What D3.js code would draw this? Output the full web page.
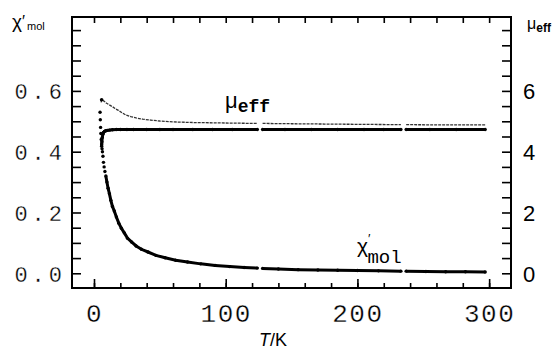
<!DOCTYPE html>
<html>
<head>
<meta charset="utf-8">
<script src="https://cdn.jsdelivr.net/npm/d3@7"></script>
<style>
  body { margin: 0; background: #fff; }
  svg { display: block; }
</style>
</head>
<body>
<div class="chart"></div>
<script>
// values (T in K); null marks a gap in the run
var chiT = [4.6, 4.8, 5.0, 5.2, 5.5, 5.8, 6.1, 6.4, 6.8, 7.2, 7.7, 8.3, 9.0, 9.8, 10.7, 11.7, 12.8, 14.0, 15.4, 17.0,
            18.8, 20.8, 23, 25.5, 28.5, 32, 36, 41, 47, 54, 62, 71, 81, 92, 103, 114, 124, 126, 128, 140,
            155, 170, 185, 200, 216, 233, 235, 237, 252, 267, 282, 297];
var chiV = [0.53, 0.505, 0.48, 0.46, 0.44, 0.425, 0.41, 0.40, 0.385, 0.365, 0.35, 0.335, 0.32, 0.30, 0.28, 0.262, 0.24, 0.22, 0.205, 0.185,
            0.165, 0.148, 0.133, 0.115, 0.103, 0.09, 0.079, 0.07, 0.059, 0.051, 0.043, 0.037, 0.031, 0.026, 0.022, 0.019, 0.017, null, 0.016, 0.014,
            0.012, 0.011, 0.010, 0.009, 0.008, 0.007, null, 0.007, 0.006, 0.005, 0.005, 0.004];

var muLowT = [5.8, 6.0, 6.3, 6.7, 7.2, 8, 9, 10, 12, 14, 17, 20, 25, 30, 40, 50, 60, 75, 90, 105, 124, 126, 128,
              145, 165, 185, 205, 220, 233, 235, 237, 255, 275, 297];
var muLowV = [4.18, 4.33, 4.47, 4.57, 4.63, 4.67, 4.69, 4.70, 4.71, 4.72, 4.73, 4.73, 4.73, 4.73, 4.73, 4.73, 4.73, 4.73, 4.73, 4.73, 4.73, null, 4.73,
              4.73, 4.73, 4.73, 4.73, 4.73, 4.73, null, 4.73, 4.73, 4.73, 4.73];

var muHighT = [5.4, 5.8, 6.3, 7, 8, 9, 10.5, 12, 14, 16, 18.5, 21, 24, 28, 32, 37, 43, 50, 60, 75, 90, 105, 124, 126, 128,
               150, 175, 200, 233, 235, 237, 265, 297];
var muHighV = [5.62, 5.71, 5.70, 5.68, 5.65, 5.61, 5.57, 5.53, 5.48, 5.42, 5.36, 5.29, 5.21, 5.15, 5.11, 5.07, 5.04, 5.01, 4.98, 4.96, 4.95, 4.94, 4.93, null, 4.93,
               4.92, 4.91, 4.90, 4.89, null, 4.89, 4.88, 4.88];

var xLabelTicks = [0, 100, 200, 300];
var yLeftLabelTicks = [0.0, 0.2, 0.4, 0.6];
var yRightLabelTicks = [0, 2, 4, 6];

var W = 555, H = 349;
var box = {left: 72, top: 17, right: 511, bottom: 288};

// scales
var x = d3.scaleLinear().domain([-16.7, 316.6]).range([box.left, box.right]);
var yL = d3.scaleLinear().domain([-0.0484, 0.8431]).range([box.bottom, box.top]);
var yR = d3.scaleLinear().domain([-0.484, 8.431]).range([box.bottom, box.top]);

function zip(ts, vs) {
    return ts.map(function(t, i) { return {t: t, v: vs[i]}; });
}
var chi = zip(chiT, chiV), muLow = zip(muLowT, muLowV), muHigh = zip(muHighT, muHighV);

var svg = d3.select("div.chart").append("svg")
    .attr("width", W).attr("height", H)
    .style("font-family", "'Liberation Sans', Arial, sans-serif");

// minor ticks every 20 K / 0.05 / 0.5
var minorX = d3.range(0, 16).map(function(i) { return i * 20; });
var minorL = d3.range(0, 17).map(function(i) { return +(i * 0.05).toFixed(2); });
var minorR = d3.range(0, 17).map(function(i) { return i * 0.5; });

function plain(g) { g.select(".domain").remove(); g.selectAll("line").attr("stroke", "#000").attr("stroke-width", 1.6); }

svg.append("g").attr("transform", "translate(0," + box.bottom + ")")
    .call(d3.axisBottom(x).tickValues(minorX).tickSize(-5).tickFormat(""))
    .call(plain);
svg.append("g").attr("transform", "translate(0," + box.top + ")")
    .call(d3.axisTop(x).tickValues(minorX).tickSize(-6).tickFormat(""))
    .call(plain);
svg.append("g").attr("transform", "translate(" + box.left + ",0)")
    .call(d3.axisLeft(yL).tickValues(minorL).tickSize(-9).tickFormat(""))
    .call(plain);
svg.append("g").attr("transform", "translate(" + box.right + ",0)")
    .call(d3.axisRight(yR).tickValues(minorR).tickSize(-9).tickFormat(""))
    .call(plain);

// slightly thinner strokes for the monospace tick labels
function thin(sel) { sel.attr("stroke", "#fff").attr("stroke-width", 0.3); }

// labelled ticks
var xAx = svg.append("g").attr("transform", "translate(0," + box.bottom + ")")
    .call(d3.axisBottom(x).tickValues(xLabelTicks).tickSize(-9).tickPadding(16).tickFormat(d3.format("d")))
    .call(plain);
xAx.selectAll("text")
    .attr("fill", "#000")
    .call(thin)
    .style("font-family", "'Liberation Mono', monospace")
    .style("font-size", "26px")
    .style("letter-spacing", "1.5px");

var yAxL = svg.append("g").attr("transform", "translate(" + box.left + ",0)")
    .call(d3.axisLeft(yL).tickValues(yLeftLabelTicks).tickSize(0).tickPadding(6).tickFormat(d3.format(".1f")))
    .call(plain);
yAxL.selectAll("text")
    .attr("fill", "#000")
    .call(thin)
    .attr("dy", "0.36em")
    .style("font-family", "'Liberation Mono', monospace")
    .style("font-size", "22px")
    .style("letter-spacing", "4px");

var yAxR = svg.append("g").attr("transform", "translate(" + box.right + ",0)")
    .call(d3.axisRight(yR).tickValues(yRightLabelTicks).tickSize(0).tickPadding(12).tickFormat(d3.format("d")))
    .call(plain);
yAxR.selectAll("text")
    .attr("fill", "#000")
    .attr("dy", "0.36em")
    .style("font-size", "22px");

// frame
svg.append("rect")
    .attr("x", box.left).attr("y", box.top)
    .attr("width", box.right - box.left).attr("height", box.bottom - box.top)
    .attr("fill", "none").attr("stroke", "#000").attr("stroke-width", 2);

// series
var lineL = d3.line().defined(function(d) { return d.v != null; })
    .x(function(d) { return x(d.t); }).y(function(d) { return yL(d.v); });
var lineR = d3.line().defined(function(d) { return d.v != null; })
    .x(function(d) { return x(d.t); }).y(function(d) { return yR(d.v); });

svg.append("path").datum(muHigh)
    .attr("d", lineR).attr("fill", "none")
    .attr("stroke", "#333").attr("stroke-width", 1.3).attr("stroke-dasharray", "3,1");
svg.append("path").datum(muLow)
    .attr("d", lineR).attr("fill", "none")
    .attr("stroke", "#000").attr("stroke-width", 3);
svg.append("path").datum(chi.filter(function(d) { return d.v == null || d.t >= 9; }))
    .attr("d", lineL).attr("fill", "none")
    .attr("stroke", "#000").attr("stroke-width", 3);

svg.append("g").selectAll("circle").data(chi.filter(function(d) { return d.v != null; }))
    .enter().append("circle")
    .attr("cx", function(d) { return x(d.t); })
    .attr("cy", function(d) { return yL(d.v); })
    .attr("r", 1.7).attr("fill", "#000");
svg.append("g").selectAll("circle").data(muLow.filter(function(d) { return d.v != null; }))
    .enter().append("circle")
    .attr("cx", function(d) { return x(d.t); })
    .attr("cy", function(d) { return yR(d.v); })
    .attr("r", 1.7).attr("fill", "#000");
svg.append("circle")
    .attr("cx", x(muHigh[1].t)).attr("cy", yR(muHigh[1].v))
    .attr("r", 1.8).attr("fill", "#000");

// axis titles
var tl = svg.append("text").attr("x", 12).attr("y", 28).attr("fill", "#000");
tl.append("tspan").text("χ").style("font-size", "19px");
tl.append("tspan").text("′").style("font-size", "16px").attr("dy", -1);
tl.append("tspan").text("mol").style("font-size", "11px").attr("dx", 2).attr("dy", 3);

var tr = svg.append("text").attr("x", 527).attr("y", 29).attr("fill", "#000");
tr.append("tspan").text("μ").style("font-size", "16px");
tr.append("tspan").text("eff").style("font-size", "12px").style("font-weight", "bold").attr("dy", 3);

var tx = svg.append("text").attr("x", 273).attr("y", 346).attr("text-anchor", "middle")
    .attr("fill", "#000").style("font-size", "18px");
tx.append("tspan").text("T").style("font-style", "italic");
tx.append("tspan").text("/K");

// in-plot labels
var lm = svg.append("text").attr("x", 225).attr("y", 108).attr("fill", "#000");
lm.append("tspan").text("μ").style("font-size", "22px");
lm.append("tspan").text("eff").attr("dy", 4)
    .style("font-family", "'Liberation Mono', monospace").style("font-size", "18px").style("font-weight", "bold");

var lc = svg.append("text").attr("x", 357).attr("y", 253).attr("fill", "#000");
lc.append("tspan").text("χ").style("font-size", "21px");
lc.append("tspan").text("′").attr("dy", -10).attr("dx", 0).style("font-size", "13px");
lc.append("tspan").text("mol").attr("dy", 20).attr("dx", -3)
    .style("font-family", "'Liberation Mono', monospace").style("font-size", "19px");
</script>
</body>
</html>
